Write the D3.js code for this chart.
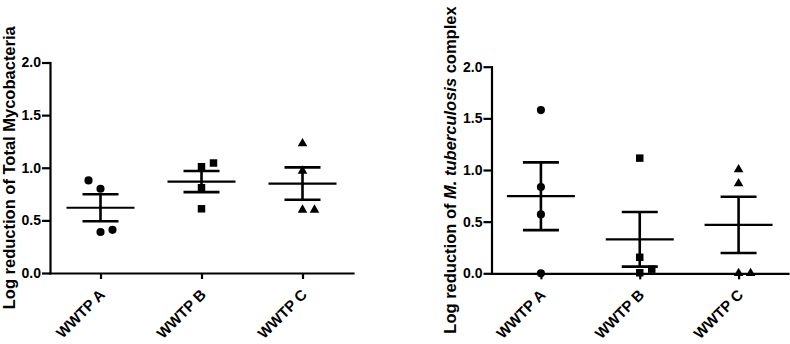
<!DOCTYPE html>
<html>
<head>
<meta charset="utf-8">
<script src="https://cdn.jsdelivr.net/npm/d3@7"></script>
<style>
	body { margin: 0; background: #fff; }
	svg text { font-family: Arial, 'Liberation Sans', sans-serif; font-weight: bold; fill: #000; }
	.axis path, .axis line { stroke: #000; stroke-width: 2.2px; }
</style>
</head>
<body>
<div id="chart"></div>
<script>
const sites = ['WWTP A', 'WWTP B', 'WWTP C'];
const yTickValues = [0, 0.5, 1.0, 1.5, 2.0];

// log reduction of total mycobacteria, one value per sample
const totalA = [0.88, 0.80, 0.39, 0.41];
const totalB = [1.01, 1.045, 0.81, 0.61];
const totalC = [1.23, 0.97, 0.60, 0.60];
// side slot of each dot where dots collide (0 = on the category line)
const totalSlotA = [-1, 0, 0, 1];
const totalSlotB = [0, 1, 0, 0];
const totalSlotC = [0, 0, 0, 1];

// log reduction of M. tuberculosis complex
const mtbA = [1.58, 0.835, 0.57, 0.0];
const mtbB = [1.115, 0.155, 0.04, 0.005];
const mtbC = [1.005, 0.87, 0.0, 0.0];
const mtbSlotA = [0, 0, 0, 0];
const mtbSlotB = [0, 0, 1, 0];
const mtbSlotC = [0, 0, 0, 1];

const symbols = [d3.symbolCircle, d3.symbolSquare, d3.symbolTriangle];
const symbolSizes = [52, 56, 40];

class DotPlot {
	constructor(_config, _values, _slots) {
		this.config = {
			parentElement: _config.parentElement,
			left: _config.left,
			top: _config.top,
			width: _config.width,
			height: _config.height,
			titleParts: _config.titleParts,
		};
		this.values = _values;
		this.slots = _slots;
		this.initVis();
	}

	initVis() {
		const vis = this;

		vis.chart = vis.config.parentElement.append('g')
			.attr('transform', `translate(${vis.config.left}, ${vis.config.top})`);

		vis.xScale = d3.scalePoint().domain(sites).range([0, vis.config.width]).padding(0.5);
		vis.yScale = d3.scaleLinear().domain([0, 2]).range([vis.config.height, 0]);

		vis.xAxis = d3.axisBottom(vis.xScale).tickSize(6).tickSizeOuter(0);
		vis.yAxis = d3.axisLeft(vis.yScale).tickValues(yTickValues).tickSize(8).tickSizeOuter(0)
			.tickPadding(1).tickFormat(d3.format('.1f'));

		vis.marks = vis.chart.append('g');

		vis.xAxisG = vis.chart.append('g').attr('class', 'axis x-axis')
			.attr('transform', `translate(0, ${vis.config.height})`);
		vis.yAxisG = vis.chart.append('g').attr('class', 'axis y-axis');

		// y title, centred on the plot
		const title = vis.chart.append('text')
			.attr('text-anchor', 'middle')
			.attr('transform', `translate(-35.5, ${vis.config.height / 2}) rotate(-90)`)
			.style('font-size', '16.5px');
		vis.config.titleParts.forEach(p => {
			title.append('tspan').text(p.text).style('font-style', p.italic ? 'italic' : 'normal');
		});

		vis.renderVis();
	}

	renderVis() {
		const vis = this;
		const jitter = 12;

		const groups = sites.map((s, i) => {
			const vals = vis.values[i];
			const mean = d3.mean(vals);
			const sem = d3.deviation(vals) / Math.sqrt(vals.length);
			return { site: s, idx: i, vals: vals, slots: vis.slots[i], mean: mean, sem: sem };
		});

		// dots
		groups.forEach(g => {
			vis.marks.selectAll(`.dot-${g.idx}`)
				.data(g.vals)
				.join('path')
				.attr('class', `dot-${g.idx}`)
				.attr('d', d3.symbol().type(symbols[g.idx]).size(symbolSizes[g.idx]))
				.attr('transform', (d, j) => `translate(${vis.xScale(g.site) + g.slots[j] * jitter}, ${vis.yScale(d)})`)
				.attr('fill', '#000');
		});

		// mean line and SEM bars
		const bars = vis.marks.selectAll('.sem')
			.data(groups)
			.join('g')
			.attr('class', 'sem')
			.attr('stroke', '#000');

		bars.append('line')
			.attr('stroke-width', 2.2)
			.attr('x1', d => vis.xScale(d.site) - 34)
			.attr('x2', d => vis.xScale(d.site) + 34)
			.attr('y1', d => vis.yScale(d.mean))
			.attr('y2', d => vis.yScale(d.mean));

		bars.append('line')
			.attr('stroke-width', 2.6)
			.attr('x1', d => vis.xScale(d.site))
			.attr('x2', d => vis.xScale(d.site))
			.attr('y1', d => vis.yScale(d.mean + d.sem))
			.attr('y2', d => vis.yScale(d.mean - d.sem));

		[1, -1].forEach(k => {
			bars.append('line')
				.attr('stroke-width', 2.6)
				.attr('x1', d => vis.xScale(d.site) - 18)
				.attr('x2', d => vis.xScale(d.site) + 18)
				.attr('y1', d => vis.yScale(d.mean + k * d.sem))
				.attr('y2', d => vis.yScale(d.mean + k * d.sem));
		});

		vis.xAxisG.call(vis.xAxis);
		vis.yAxisG.call(vis.yAxis);

		vis.yAxisG.selectAll('text').style('font-size', '14px');
		vis.xAxisG.selectAll('text')
			.style('font-size', '15px')
			.attr('text-anchor', 'end')
			.attr('x', 0).attr('y', 0).attr('dy', 0)
			.attr('transform', 'translate(5, 22.5) rotate(-45)');
		vis.chart.selectAll('.domain').attr('stroke-linecap', 'square');
	}
}

const svg = d3.select('#chart').append('svg')
	.attr('width', 790)
	.attr('height', 344);

new DotPlot({
	parentElement: svg,
	left: 50, top: 62.5, width: 303, height: 210.5,
	titleParts: [{ text: 'Log reduction of Total Mycobacteria' }],
}, [totalA, totalB, totalC], [totalSlotA, totalSlotB, totalSlotC]);

new DotPlot({
	parentElement: svg,
	left: 491.5, top: 66.7, width: 296.5, height: 206.6,
	titleParts: [
		{ text: 'Log reduction of ' },
		{ text: 'M. tuberculosis', italic: true },
		{ text: ' complex' },
	],
}, [mtbA, mtbB, mtbC], [mtbSlotA, mtbSlotB, mtbSlotC]);
</script>
</body>
</html>
